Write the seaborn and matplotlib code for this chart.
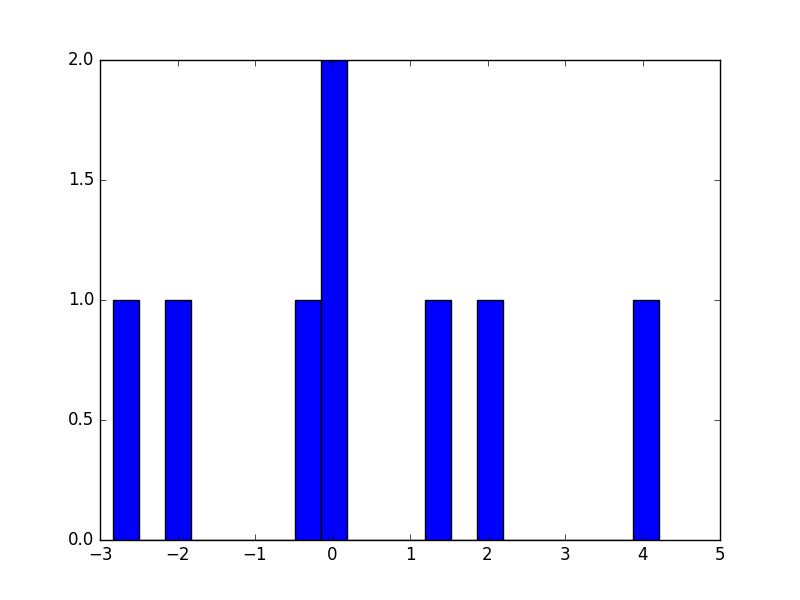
import matplotlib
matplotlib.use("Agg")
import matplotlib.pyplot as plt
import seaborn as sns
import numpy as np

values = [-2.835, -2.0, -0.3, 0.0, 0.1, 1.4, 2.0, 4.215]
n_bins = 21

plt.style.use("classic")
fig = plt.figure(figsize=(8, 6), dpi=100)
fig.patch.set_facecolor("white")
ax = fig.add_axes([0.125, 0.1, 0.775, 0.8])
sns.histplot(x=values, bins=n_bins, stat="count", color="blue", edgecolor="black",
             alpha=1.0, linewidth=1.0, ax=ax)
ax.set_xlim(-3, 5)
ax.set_ylim(0, 2)
ax.set_xticks(np.arange(-3, 6, 1))
ax.set_yticks([0.0, 0.5, 1.0, 1.5, 2.0])
ax.set_yticklabels(["0.0", "0.5", "1.0", "1.5", "2.0"])
ax.set_xlabel("")
ax.set_ylabel("")
fig.savefig("out.png", dpi=100, facecolor="white")
